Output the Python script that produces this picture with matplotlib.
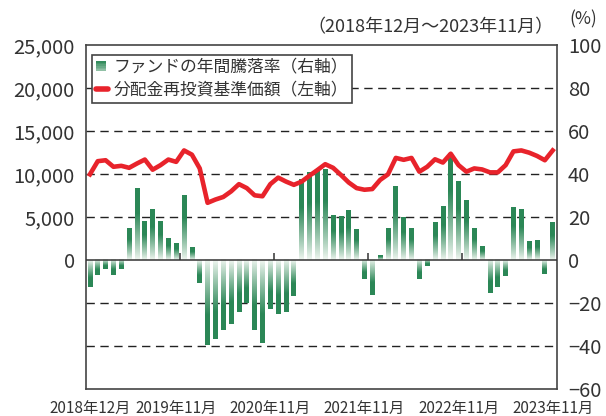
import numpy as np
import matplotlib
matplotlib.use("Agg")
import matplotlib.pyplot as plt
from matplotlib.legend_handler import HandlerBase
from matplotlib.patches import Rectangle
from matplotlib.lines import Line2D

plt.rcParams['font.family'] = ['Noto Sans CJK JP', 'DejaVu Sans']

# ---- data (monthly, 2018-12 .. 2023-11) ----
fund_return = [-12.4, -7.1, -4.3, -7.1, -4.3, 14.7, 33.2, 18.1, 23.6, 18.0,
               10.1, 7.9, 29.8, 5.9, -10.5, -39.7, -36.6, -32.6, -29.6, -24.2,
               -19.8, -32.6, -38.4, -22.9, -25.0, -24.2, -16.7, 37.5, 40.6, 41.4,
               41.9, 20.8, 20.2, 23.1, 14.3, -9.0, -16.4, 2.3, 14.7, 34.4,
               19.7, 14.7, -9.0, -2.8, 17.4, 24.8, 49.6, 36.4, 27.8, 14.7,
               6.5, -15.5, -12.6, -7.4, 24.3, 23.6, 8.4, 9.3, -6.4, 17.4]
nav = [9960, 11490, 11600, 10840, 10950, 10720, 11220, 11680, 10500, 11030,
       11680, 11410, 12740, 12250, 10650, 6650, 7030, 7330, 7980, 8820,
       8360, 7520, 7410, 8820, 9580, 9120, 8740, 9120, 9810, 10460,
       11140, 10720, 9890, 9010, 8360, 8170, 8250, 9310, 9960, 11870,
       11650, 11870, 10270, 10840, 11710, 11330, 12360, 11030, 10270, 10650,
       10530, 10190, 10190, 11030, 12630, 12740, 12480, 12100, 11600, 12740]
tick_months = [0, 11, 23, 35, 47, 59]
tick_labels = ['2018年12月', '2019年11月', '2020年11月', '2021年11月', '2022年11月', '2023年11月']
boundary_months = [11, 23, 35, 47]
right_ticks = [-60, -40, -20, 0, 20, 40, 60, 80, 100]
left_ticks = [0, 5000, 10000, 15000, 20000, 25000]
legend_labels = ['ファンドの年間騰落率（右軸）', '分配金再投資基準価額（左軸）']

DARK = np.array([0.17, 0.53, 0.34])
LIGHT = np.array([0.95, 0.97, 0.95])
RED = '#e8232b'

fig = plt.figure(figsize=(6.06, 4.16), dpi=100)
ax = fig.add_axes([86/606, 1-389/416, (557-86)/606, (389-45)/416])
axl = ax.twinx()

x = np.arange(len(fund_return))
bars = ax.bar(x, fund_return, width=0.6, color='none', edgecolor='none', zorder=2)
t = np.linspace(0, 1, 120)
a = np.clip(t / 0.65, 0, 1) ** 0.9
cols = LIGHT[None, :] * (1 - a[:, None]) + DARK[None, :] * a[:, None]
for p in bars:
    x0, w, y0, h = p.get_x(), p.get_width(), p.get_y(), p.get_height()
    ymin, ymax = min(y0, y0 + h), max(y0, y0 + h)
    img = cols if h >= 0 else cols[::-1]
    ax.imshow(img[:, None, :], extent=[x0, x0 + w, ymin, ymax], origin='lower',
              aspect='auto', interpolation='bilinear', zorder=2)

ax.set_xlim(-0.5, len(fund_return) - 0.45)
ax.set_ylim(-60, 100)
ax.set_yticks(right_ticks)
ax.set_xticks(tick_months)
ax.set_xticklabels(tick_labels)
ax.tick_params(axis='x', length=0, pad=8, labelsize=11, colors='#333333')
for v in right_ticks:
    if v not in (0, 100, -60):
        ax.axhline(v, color='#222222', lw=1.0, ls=(0, (6, 4)), zorder=1)
ax.axhline(0, color='#333333', lw=1.1, zorder=3)
ax.vlines(np.array(boundary_months) + 0.5, 0, 3.4, color='#333333', lw=1.1, zorder=3)
for s in ax.spines.values():
    s.set_color('#444444')
    s.set_linewidth(1.2)

axl.plot(x, nav, color=RED, lw=3.3, solid_joinstyle='round', zorder=4)
axl.set_ylim(-15000, 25000)
axl.set_yticks(left_ticks)
axl.set_yticklabels([f'{v:,}' for v in left_ticks])
for s in axl.spines.values():
    s.set_visible(False)

ax.yaxis.set_ticks_position('right')
ax.yaxis.set_label_position('right')
axl.yaxis.set_ticks_position('left')
ax.tick_params(axis='y', which='both', left=False, right=True, labelleft=False,
               labelright=True, length=0, pad=8, labelsize=14.5, colors='#333333')
axl.tick_params(axis='y', which='both', left=True, right=False, labelleft=True,
                labelright=False, length=0, pad=8, labelsize=14.5, colors='#333333')


class GradHandler(HandlerBase):
    def create_artists(self, legend, orig_handle, xdescent, ydescent, width, height, fontsize, trans):
        arts = []
        n = 6
        side = height * 0.85
        x0 = -xdescent
        y0 = -ydescent + (height - side) / 2
        for i in range(n):
            f = (i + 0.5) / n
            c = LIGHT * (1 - (0.45 + 0.55 * f)) + DARK * (0.45 + 0.55 * f)
            r = Rectangle((x0, y0 + side * i / n), side, side / n + 0.3, facecolor=c,
                          edgecolor='none', transform=trans)
            arts.append(r)
        return arts


class BarKey:
    pass


h_bar = BarKey()
h_line = Line2D([], [], color=RED, lw=4, solid_capstyle='round')
leg = axl.legend([h_bar, h_line], legend_labels, handler_map={BarKey: GradHandler()},
                 loc='upper left', bbox_to_anchor=(0.012, 0.972), borderaxespad=0,
                 frameon=True, fancybox=False, edgecolor='#444444', framealpha=1,
                 handlelength=0.75, handletextpad=0.3, borderpad=0.25,
                 labelspacing=0.35, prop={'size': 12.1})
leg.get_frame().set_linewidth(1.2)
for txt in leg.get_texts():
    txt.set_color('#333333')

fig.text(554/606, 1-27/416, '（2018年12月～2023年11月）', ha='right', va='center',
         fontsize=13, color='#333333')
fig.text(583/606, 1-19/416, '(%)', ha='center', va='center', fontsize=12.5, color='#333333')

fig.savefig('out.png', dpi=100)
